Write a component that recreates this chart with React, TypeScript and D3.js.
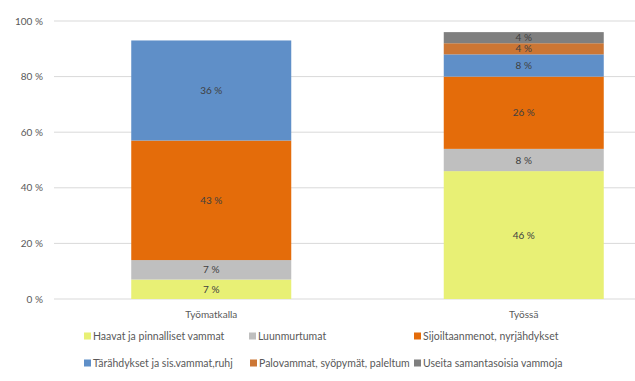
import React from "react";
import * as d3 from "d3";

const categories = ["Työmatkalla", "Työssä"];
const seriesNames = [
  "Haavat ja pinnalliset vammat",
  "Luunmurtumat",
  "Sijoiltaanmenot, nyrjähdykset",
  "Tärähdykset ja sis.vammat,ruhj",
  "Palovammat, syöpymät, paleltum",
  "Useita samantasoisia vammoja",
];
const haavat = [7, 46];
const luunmurtumat = [7, 8];
const sijoiltaan = [43, 26];
const tarahdykset = [36, 8];
const palovammat = [0, 4];
const useita = [0, 4];
const seriesValues = [haavat, luunmurtumat, sijoiltaan, tarahdykset, palovammat, useita];
const yTicks = [0, 20, 40, 60, 80, 100];
const colors = ["#E8F075", "#BFBFBF", "#E46C0A", "#5F8FC8", "#CC7634", "#7F7F7F"];

const W = 635;
const H = 381;
const FONT = "Lato, 'Open Sans', sans-serif";

export default function App() {
  const y = d3.scaleLinear().domain([0, 100]).range([299, 21]);
  const x = d3.scalePoint<string>().domain(categories).range([55, 680]).padding(0.5);
  const barW = x.step() * 0.512;

  const rows = categories.map((c, ci) => {
    const obj: any = { cat: c };
    seriesNames.forEach((s, si) => (obj[s] = seriesValues[si][ci]));
    return obj;
  });
  const stacked = d3.stack().keys(seriesNames)(rows);

  const legendPos = [
    [88, 336], [253, 336], [418, 336],
    [88, 363], [254, 363], [418, 363],
  ];

  return (
    <svg width={W} height={H} style={{ position: "absolute", left: 0, top: 0, background: "#fff" }} fontFamily={FONT}>
      {yTicks.map((t) => (
        <g key={t}>
          <line x1={54} x2={W} y1={y(t)} y2={y(t)} stroke="#D9D9D9" strokeWidth={1} />
          <text x={43} y={y(t)} dy="0.35em" textAnchor="end" fontSize={10} fill="#595959">
            {t} %
          </text>
        </g>
      ))}
      {stacked.map((layer, si) =>
        layer.map((d, ci) => {
          const v = d[1] - d[0];
          if (v <= 0) return null;
          const cx = x(categories[ci])!;
          const yTop = y(d[1]);
          const yBot = y(d[0]);
          return (
            <g key={si + "-" + ci}>
              <rect x={cx - barW / 2} y={yTop} width={barW} height={yBot - yTop} fill={colors[si]} />
              <text x={cx} y={(yTop + yBot) / 2} dy="0.35em" textAnchor="middle" fontSize={10} fill="#404040">
                {v} %
              </text>
            </g>
          );
        })
      )}
      {categories.map((c) => (
        <text key={c} x={x(c)} y={314} dy="0.35em" textAnchor="middle" fontSize={10} fill="#595959">
          {c}
        </text>
      ))}
      {seriesNames.map((s, i) => (
        <g key={s}>
          <rect x={legendPos[i][0] - 4} y={legendPos[i][1] - 3.5} width={7} height={7} fill={colors[i]} />
          <text x={legendPos[i][0] + 5} y={legendPos[i][1]} dy="0.35em" fontSize={10.5} fill="#595959">
            {s}
          </text>
        </g>
      ))}
    </svg>
  );
}
